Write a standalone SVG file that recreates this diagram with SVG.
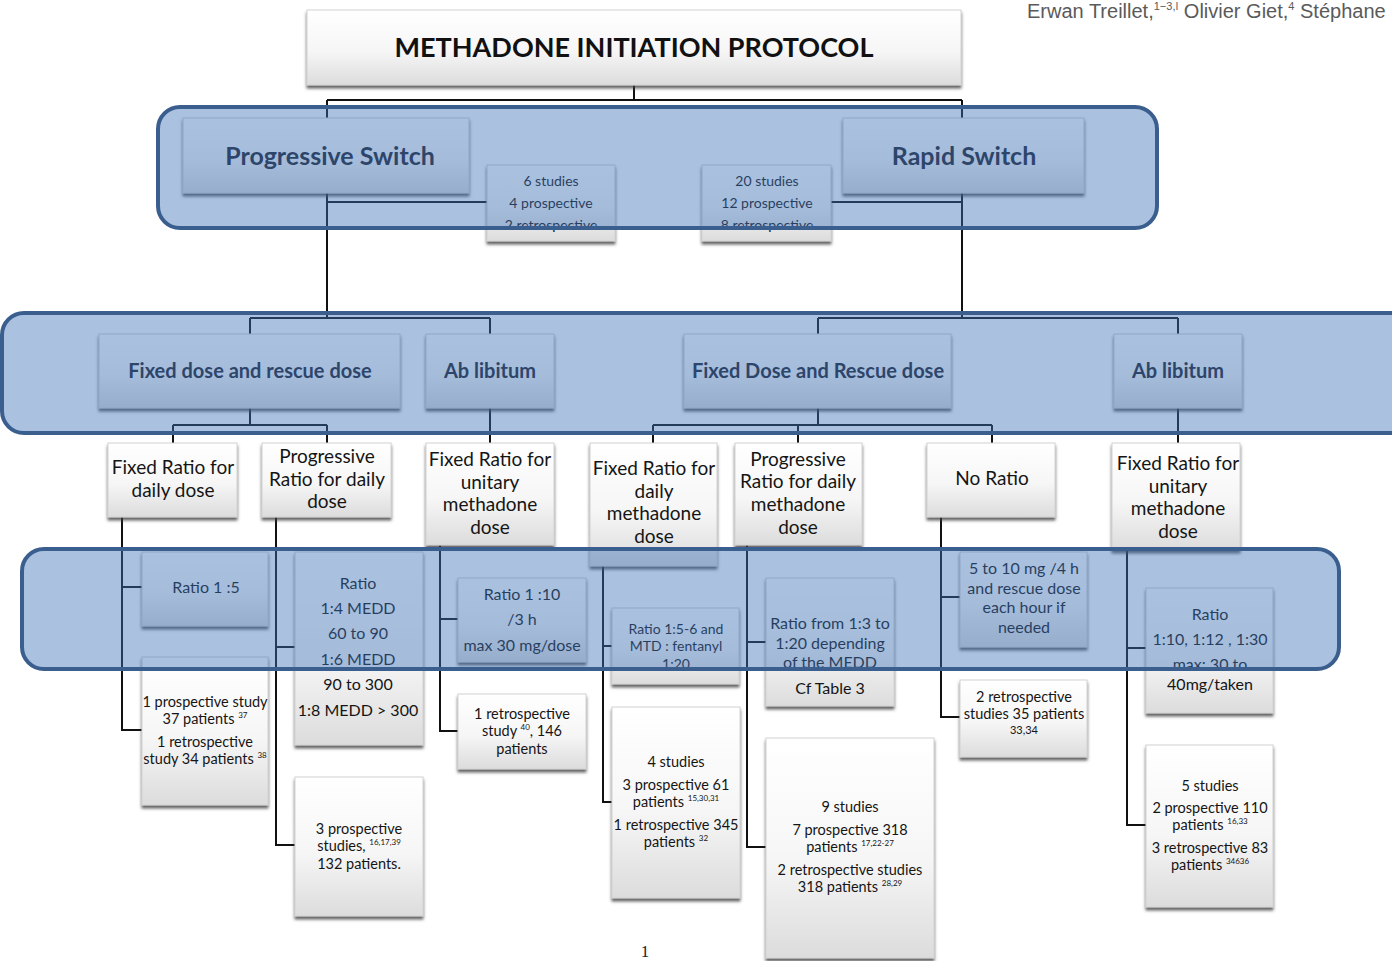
<svg xmlns="http://www.w3.org/2000/svg" width="1392" height="961" viewBox="0 0 1392 961">
  <defs>
    <linearGradient id="boxFill" x1="0" y1="0" x2="0" y2="1">
      <stop offset="0" stop-color="#ffffff"/>
      <stop offset="0.55" stop-color="#f6f6f6"/>
      <stop offset="1" stop-color="#dcdcdc"/>
    </linearGradient>
    <filter id="shadow" x="-10%" y="-10%" width="120%" height="130%">
      <feDropShadow dx="0" dy="3" stdDeviation="1.6" flood-color="#3a3a3a" flood-opacity="0.8"/>
    </filter>
    <style>
      .box { fill: url(#boxFill); stroke: #d2d2d2; stroke-width: 1; filter: url(#shadow); }
      .conn { fill: none; stroke: #111; stroke-width: 2; }
      .band { fill: #3e72b8; fill-opacity: 0.44; stroke: #3a5e8e; stroke-width: 4; }
      text { font-family: "Lato", "Open Sans", sans-serif; fill: #151515; text-anchor: middle; }
      .title { font-size: 27px; font-weight: bold; fill: #111; }
      .l1 { font-size: 25px; font-weight: bold; fill: #22222e; }
      .l2 { font-size: 20px; font-weight: bold; fill: #22222e; }
      .l3 { font-size: 19px; }
      .l4 { font-size: 16px; }
      .st { font-size: 14.5px; }
      .sm { font-size: 14px; }
      .sup { font-size: 8px; }
      .author { font-family: "Liberation Sans", Arial, sans-serif; font-size: 20px; fill: #5a5a5a; text-anchor: start; }
      .asup { font-size: 11px; }
      .page { font-family: "Liberation Serif", serif; font-size: 17px; fill: #222; }
    </style>
  </defs>

  <rect width="1392" height="961" fill="#ffffff"/>

  <!-- header line with author names -->
  <text class="author" x="1027" y="18">Erwan Treillet,<tspan class="asup" dy="-8">1−3,ǀ</tspan><tspan dy="8"> Olivier Giet,</tspan><tspan class="asup" dy="-8">4</tspan><tspan dy="8"> Stéphane</tspan></text>

  <!-- connectors -->
  <g id="connectors" class="conn">
    <path d="M634,85 V100 M327,100 H962 M327,100 V118 M962,100 V118"/>
    <path d="M327,193 V318 M327,202 H487 M250,318 H490 M250,318 V334 M490,318 V334"/>
    <path d="M962,193 V318 M831,202 H962 M818,318 H1178 M818,318 V334 M1178,318 V334"/>
    <path d="M250,408 V425 M173,425 H327 M173,425 V443 M327,425 V443"/>
    <path d="M490,408 V443"/>
    <path d="M818,408 V425 M653,425 H992 M653,425 V443 M798,425 V443 M992,425 V443"/>
    <path d="M1178,408 V443"/>
    <path d="M122,517 V730 H142 M122,587 H142"/>
    <path d="M276,517 V845 H295 M276,647 H295"/>
    <path d="M440,545 V731 H458 M440,619 H458"/>
    <path d="M603,566 V802 H612 M603,646 H612"/>
    <path d="M747,545 V847 H766 M747,642 H766"/>
    <path d="M941,517 V717 H960 M941,597 H960"/>
    <path d="M1127,550 V825 H1146 M1127,648 H1146"/>
  </g>

  <!-- title -->
  <g id="title">
    <rect class="box" x="307" y="10" width="654" height="75"/>
    <text class="title" x="634" y="57">METHADONE INITIATION PROTOCOL</text>
  </g>

  <!-- switch types -->
  <g id="n-prog">
    <rect class="box" x="183" y="118" width="286" height="75"/>
    <text class="l1" x="330" y="165">Progressive Switch</text>
  </g>
  <g id="n-rapid">
    <rect class="box" x="843" y="118" width="241" height="75"/>
    <text class="l1" x="964" y="165">Rapid Switch</text>
  </g>
  <g id="n-stud6">
    <rect class="box" x="487" y="165" width="128" height="76"/>
    <text class="sm" x="551" y="186">6 studies</text>
    <text class="sm" x="551" y="208">4 prospective</text>
    <text class="sm" x="551" y="230">2 retrospective</text>
  </g>
  <g id="n-stud20">
    <rect class="box" x="702" y="165" width="129" height="76"/>
    <text class="sm" x="767" y="186">20 studies</text>
    <text class="sm" x="767" y="208">12 prospective</text>
    <text class="sm" x="767" y="230">8 retrospective</text>
  </g>

  <!-- dosing schemes -->
  <g id="n-fixed-l">
    <rect class="box" x="99" y="334" width="301" height="74"/>
    <text class="l2" x="250" y="378">Fixed dose and rescue dose</text>
  </g>
  <g id="n-ablib-l">
    <rect class="box" x="426" y="334" width="128" height="74"/>
    <text class="l2" x="490" y="378">Ab libitum</text>
  </g>
  <g id="n-fixed-r">
    <rect class="box" x="684" y="334" width="267" height="74"/>
    <text class="l2" x="818" y="378">Fixed Dose and Rescue dose</text>
  </g>
  <g id="n-ablib-r">
    <rect class="box" x="1114" y="334" width="128" height="74"/>
    <text class="l2" x="1178" y="378">Ab libitum</text>
  </g>

  <!-- ratio methods -->
  <g id="n-frdd">
    <rect class="box" x="108" y="443" width="129" height="74"/>
    <text class="l3" x="173" y="474">Fixed Ratio for</text>
    <text class="l3" x="173" y="497">daily dose</text>
  </g>
  <g id="n-prdd">
    <rect class="box" x="262" y="443" width="129" height="74"/>
    <text class="l3" x="327" y="463">Progressive</text>
    <text class="l3" x="327" y="486">Ratio for daily</text>
    <text class="l3" x="327" y="508">dose</text>
  </g>
  <g id="n-frum-l">
    <rect class="box" x="426" y="443" width="128" height="102"/>
    <text class="l3" x="490" y="466">Fixed Ratio for</text>
    <text class="l3" x="490" y="489">unitary</text>
    <text class="l3" x="490" y="511">methadone</text>
    <text class="l3" x="490" y="534">dose</text>
  </g>
  <g id="n-frdmd">
    <rect class="box" x="590" y="443" width="127" height="123"/>
    <text class="l3" x="654" y="475">Fixed Ratio for</text>
    <text class="l3" x="654" y="498">daily</text>
    <text class="l3" x="654" y="520">methadone</text>
    <text class="l3" x="654" y="543">dose</text>
  </g>
  <g id="n-prdmd">
    <rect class="box" x="735" y="443" width="127" height="102"/>
    <text class="l3" x="798" y="466">Progressive</text>
    <text class="l3" x="798" y="488">Ratio for daily</text>
    <text class="l3" x="798" y="511">methadone</text>
    <text class="l3" x="798" y="534">dose</text>
  </g>
  <g id="n-noratio">
    <rect class="box" x="927" y="443" width="128" height="74"/>
    <text class="l3" x="992" y="485">No Ratio</text>
  </g>
  <g id="n-frum-r">
    <rect class="box" x="1112" y="443" width="128" height="107"/>
    <text class="l3" x="1178" y="470">Fixed Ratio for</text>
    <text class="l3" x="1178" y="493">unitary</text>
    <text class="l3" x="1178" y="515">methadone</text>
    <text class="l3" x="1178" y="538">dose</text>
  </g>

  <!-- ratios and evidence -->
  <g id="n-r15">
    <rect class="box" x="142" y="552" width="126" height="74"/>
    <text class="l4" x="206" y="593">Ratio 1 :5</text>
  </g>
  <g id="n-s15">
    <rect class="box" x="142" y="657" width="126" height="148"/>
    <text class="st" x="205" y="707">1 prospective study</text>
    <text class="st" x="205" y="724">37 patients <tspan class="sup" dy="-6">37</tspan></text>
    <text class="st" x="205" y="747">1 retrospective</text>
    <text class="st" x="205" y="764">study 34 patients <tspan class="sup" dy="-6">38</tspan></text>
  </g>

  <g id="n-rmedd">
    <rect class="box" x="295" y="552" width="128" height="193"/>
    <text class="l4" x="358" y="589">Ratio</text>
    <text class="l4" x="358" y="614">1:4 MEDD</text>
    <text class="l4" x="358" y="639">60 to 90</text>
    <text class="l4" x="358" y="665">1:6 MEDD</text>
    <text class="l4" x="358" y="690">90 to 300</text>
    <text class="l4" x="358" y="716">1:8 MEDD &gt; 300</text>
  </g>
  <g id="n-smedd">
    <rect class="box" x="295" y="777" width="128" height="139"/>
    <text class="st" x="359" y="834">3 prospective</text>
    <text class="st" x="359" y="851">studies, <tspan class="sup" dy="-6">16,17,39</tspan></text>
    <text class="st" x="359" y="869">132 patients.</text>
  </g>

  <g id="n-r110">
    <rect class="box" x="458" y="578" width="128" height="84"/>
    <text class="l4" x="522" y="600">Ratio 1 :10</text>
    <text class="l4" x="522" y="625">/3 h</text>
    <text class="l4" x="522" y="651">max 30 mg/dose</text>
  </g>
  <g id="n-s110">
    <rect class="box" x="458" y="694" width="128" height="75"/>
    <text class="st" x="522" y="719">1 retrospective</text>
    <text class="st" x="522" y="736">study <tspan class="sup" dy="-6">40</tspan><tspan dy="6">, 146</tspan></text>
    <text class="st" x="522" y="754">patients</text>
  </g>

  <g id="n-r156">
    <rect class="box" x="612" y="608" width="127" height="76"/>
    <text class="sm" x="676" y="634">Ratio  1:5-6 and</text>
    <text class="sm" x="676" y="651">MTD : fentanyl</text>
    <text class="sm" x="676" y="669">1:20</text>
  </g>
  <g id="n-s156">
    <rect class="box" x="612" y="707" width="128" height="191"/>
    <text class="st" x="676" y="767">4 studies</text>
    <text class="st" x="676" y="790">3 prospective 61</text>
    <text class="st" x="676" y="807">patients <tspan class="sup" dy="-6">15,30,31</tspan></text>
    <text class="st" x="676" y="830">1 retrospective 345</text>
    <text class="st" x="676" y="847">patients <tspan class="sup" dy="-6">32</tspan></text>
  </g>

  <g id="n-r320">
    <rect class="box" x="766" y="578" width="128" height="128"/>
    <text class="l4" x="830" y="629">Ratio from 1:3 to</text>
    <text class="l4" x="830" y="649">1:20 depending</text>
    <text class="l4" x="830" y="668">of the MEDD</text>
    <text class="l4" x="830" y="694">Cf Table 3</text>
  </g>
  <g id="n-s320">
    <rect class="box" x="766" y="738" width="168" height="220"/>
    <text class="st" x="850" y="812">9 studies</text>
    <text class="st" x="850" y="835">7 prospective 318</text>
    <text class="st" x="850" y="852">patients <tspan class="sup" dy="-6">17,22-27</tspan></text>
    <text class="st" x="850" y="875">2 retrospective studies</text>
    <text class="st" x="850" y="892">318 patients <tspan class="sup" dy="-6">28,29</tspan></text>
  </g>

  <g id="n-r510">
    <rect class="box" x="960" y="552" width="127" height="95"/>
    <text class="l4" x="1024" y="574">5 to 10  mg /4 h</text>
    <text class="l4" x="1024" y="594">and rescue dose</text>
    <text class="l4" x="1024" y="613">each hour if</text>
    <text class="l4" x="1024" y="633">needed</text>
  </g>
  <g id="n-s510">
    <rect class="box" x="960" y="680" width="127" height="77"/>
    <text class="st" x="1024" y="702">2 retrospective</text>
    <text class="st" x="1024" y="719">studies 35 patients</text>
    <text class="sm" x="1024" y="734" style="font-size:11px">33,34</text>
  </g>

  <g id="n-r1030">
    <rect class="box" x="1146" y="588" width="127" height="125"/>
    <text class="l4" x="1210" y="620">Ratio</text>
    <text class="l4" x="1210" y="645">1:10, 1:12 , 1:30</text>
    <text class="l4" x="1210" y="670">max: 30 to</text>
    <text class="l4" x="1210" y="690">40mg/taken</text>
  </g>
  <g id="n-s1030">
    <rect class="box" x="1146" y="745" width="127" height="162"/>
    <text class="st" x="1210" y="791">5 studies</text>
    <text class="st" x="1210" y="813">2 prospective 110</text>
    <text class="st" x="1210" y="830">patients <tspan class="sup" dy="-6">16,33</tspan></text>
    <text class="st" x="1210" y="853">3 retrospective  83</text>
    <text class="st" x="1210" y="870">patients <tspan class="sup" dy="-6">34636</tspan></text>
  </g>

  <!-- translucent highlight bands drawn over the tree -->
  <g id="bands">
    <rect class="band" x="158" y="107" width="999" height="121" rx="22"/>
    <rect class="band" x="2" y="313" width="1410" height="120" rx="22"/>
    <rect class="band" x="22" y="549" width="1317" height="120" rx="22"/>
  </g>

  <text class="page" x="645" y="957">1</text>
</svg>
